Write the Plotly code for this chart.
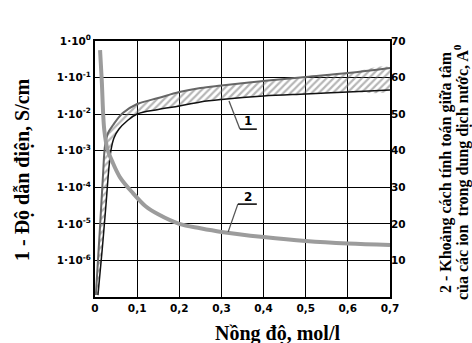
import plotly.graph_objects as go

# ---- data ----
# curve 1: conductivity band, S/cm (left, log axis)
upper_conc = [0.002, 0.012, 0.019, 0.024, 0.031, 0.043, 0.066, 0.1, 0.15, 0.2, 0.25, 0.3, 0.4, 0.5, 0.6, 0.7]
upper_cond = [1.13e-7, 8.7e-6, 2.17e-4, 1.43e-3, 3.05e-3, 5.05e-3, 1.07e-2, 1.89e-2, 2.76e-2,
              4.03e-2, 5.19e-2, 6.07e-2, 8.05e-2, 0.104, 0.133, 0.183]
lower_conc = [0.007, 0.017, 0.026, 0.033, 0.038, 0.045, 0.057, 0.076, 0.1, 0.15, 0.2, 0.25, 0.3, 0.4, 0.5, 0.6, 0.7]
lower_cond = [1.13e-7, 1.93e-6, 3.28e-5, 3.37e-4, 1.05e-3, 2.23e-3, 3.93e-3, 6.49e-3, 1.01e-2,
              1.34e-2, 1.67e-2, 2.15e-2, 2.51e-2, 3.13e-2, 3.56e-2, 4.03e-2, 4.57e-2]
# curve 2: computed distance between ion centres, Angstrom (right axis)
dist_conc = [0.012, 0.016, 0.022, 0.03, 0.04, 0.059, 0.09, 0.12, 0.15, 0.2, 0.25, 0.3, 0.4, 0.5, 0.6, 0.7]
dist_val = [67.5, 59.3, 45.7, 40.2, 37.3, 32.8, 28.4, 24.8, 22.6, 20.0, 18.8, 17.8, 16.4, 15.3, 14.6, 14.2]

x_ticks = [0, 0.1, 0.2, 0.3, 0.4, 0.5, 0.6, 0.7]
x_ticktext = ["0", "0,1", "0,2", "0,3", "0,4", "0,5", "0,6", "0,7"]
y_ticks = [1, 1e-1, 1e-2, 1e-3, 1e-4, 1e-5, 1e-6]
y_ticktext = ["1·10<sup>0</sup>", "1·10<sup>-1</sup>", "1·10<sup>-2</sup>", "1·10<sup>-3</sup>",
              "1·10<sup>-4</sup>", "1·10<sup>-5</sup>", "1·10<sup>-6</sup>"]
y2_ticks = [10, 20, 30, 40, 50, 60, 70]

tickfont = dict(family="DejaVu Sans", size=10.5, color="black", weight="bold")
titlefont = dict(family="Liberation Serif", size=20, color="black", weight="bold")
rtitlefont = dict(family="Liberation Serif", size=16, color="black", weight="bold")

fig = go.Figure()

# hatched band
fig.add_trace(go.Scatter(
    x=upper_conc + lower_conc[::-1], y=upper_cond + lower_cond[::-1],
    mode="lines", fill="toself", line=dict(width=0, shape="spline"),
    fillcolor="rgba(0,0,0,0)",
    fillpattern=dict(shape="/", fgcolor="#6e6e6e", bgcolor="rgba(0,0,0,0)", size=5, solidity=0.45),
    hoverinfo="skip"))
fig.add_trace(go.Scatter(x=upper_conc, y=upper_cond, mode="lines",
                         line=dict(color="#666666", width=2, shape="spline")))
fig.add_trace(go.Scatter(x=lower_conc, y=lower_cond, mode="lines",
                         line=dict(color="#111111", width=1.5, shape="spline")))
# distance curve
fig.add_trace(go.Scatter(x=dist_conc, y=dist_val, mode="lines", yaxis="y2",
                         line=dict(color="#9c9c9c", width=4, shape="spline")))

# leader lines for labels (right-axis units)
leader = dict(color="#555555", width=1.3)
fig.add_shape(type="line", xref="x", yref="y2", x0=0.318, y0=53.6, x1=0.344, y1=45.9, line=leader)
fig.add_shape(type="line", xref="x", yref="y2", x0=0.344, y0=45.9, x1=0.384, y1=45.9, line=dict(color="black", width=1.5))
fig.add_shape(type="line", xref="x", yref="y2", x0=0.316, y0=17.8, x1=0.339, y1=25.4, line=leader)
fig.add_shape(type="line", xref="x", yref="y2", x0=0.339, y0=25.4, x1=0.384, y1=25.4, line=dict(color="black", width=1.5))

fig.add_annotation(x=0.363, y=48.0, xref="x", yref="y2", text="1", showarrow=False,
                   font=dict(family="DejaVu Sans", size=12, color="black", weight="bold"))
fig.add_annotation(x=0.363, y=27.4, xref="x", yref="y2", text="2", showarrow=False,
                   font=dict(family="DejaVu Sans", size=12, color="black", weight="bold"))

# axis titles
fig.add_annotation(x=(22 - 95) / 295, y=0.496, xref="paper", yref="paper", text="1 - Độ dẫn điện, S/cm",
                   textangle=-90, showarrow=False, font=titlefont, xanchor="center", yanchor="middle")
fig.add_annotation(x=0.617, y=-0.142, xref="paper", yref="paper", text="Nồng độ, mol/l",
                   showarrow=False, font=titlefont, xanchor="center", yanchor="middle")
fig.add_annotation(x=(446 - 95) / 295, y=0.488, xref="paper", yref="paper",
                   text="2 - Khoảng cách tính toán giữa tâm",
                   textangle=-90, showarrow=False, font=rtitlefont, xanchor="center", yanchor="middle")
fig.add_annotation(x=(461 - 95) / 295, y=0.488, xref="paper", yref="paper",
                   text="của các ion  trong dung dịch nước, A<sup>0</sup>",
                   textangle=-90, showarrow=False, font=rtitlefont, xanchor="center", yanchor="middle")

fig.update_layout(
    width=472, height=343,
    margin=dict(l=95, r=82, t=41, b=46),
    paper_bgcolor="white", plot_bgcolor="white",
    showlegend=False,
    xaxis=dict(range=[0, 0.7], tickvals=x_ticks, ticktext=x_ticktext, tickfont=tickfont,
               showgrid=True, gridcolor="black", gridwidth=1, zeroline=False,
               showline=True, linecolor="black", linewidth=2, mirror=True, ticks=""),
    yaxis=dict(type="log", range=[-7, 0], tickvals=y_ticks, ticktext=y_ticktext, tickfont=tickfont,
               showgrid=True, gridcolor="black", gridwidth=1, zeroline=False,
               showline=True, linecolor="black", linewidth=2, mirror=True, ticks=""),
    yaxis2=dict(overlaying="y", side="right", range=[0, 70], tickvals=y2_ticks, tickfont=tickfont,
                showgrid=False, zeroline=False, showline=False, ticks=""),
)

fig.write_html("out.html", config={"displayModeBar": False},
               post_script="document.body.style.margin='0';")
